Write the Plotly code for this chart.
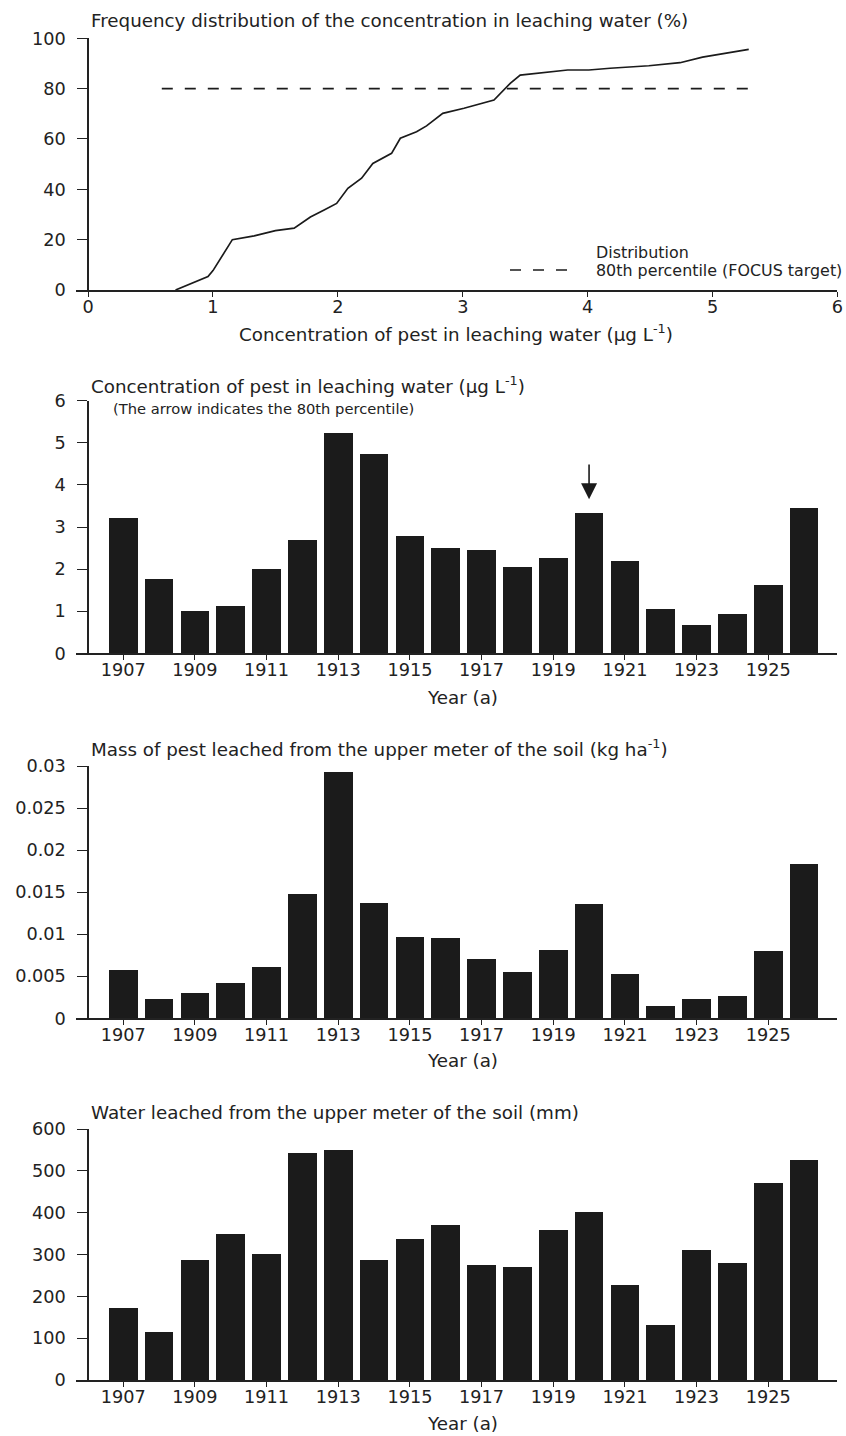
import plotly.graph_objects as go

# ---------------- data ----------------
dist_conc = [0.70, 0.96, 1.00, 1.155, 1.33, 1.50, 1.65, 1.78, 1.89, 1.99, 2.08, 2.15, 2.19,
             2.28, 2.43, 2.50, 2.63, 2.71, 2.84, 3.01, 3.25, 3.38, 3.46, 3.84, 4.01, 4.18,
             4.49, 4.74, 4.92, 5.29]
dist_freq = [0, 5.3, 7.7, 20, 21.5, 23.6, 24.6, 29, 31.8, 34.4, 40.4, 43, 44.4,
             50.3, 54.3, 60.3, 62.9, 65.2, 70.2, 72.2, 75.5, 82.1, 85.4, 87.4, 87.4, 88.1,
             89.1, 90.3, 92.5, 95.6]
target_x = [0.59, 5.31]
target_y = [80, 80]

years = list(range(1907, 1927))
concentration = [3.22, 1.77, 1.02, 1.13, 2.00, 2.70, 5.25, 4.73, 2.80, 2.51, 2.47, 2.05,
                 2.28, 3.34, 2.20, 1.06, 0.68, 0.95, 1.63, 3.46]
mass = [0.0057, 0.0023, 0.0030, 0.0042, 0.0061, 0.0148, 0.0293, 0.0137, 0.0097, 0.0095,
        0.0070, 0.0055, 0.0081, 0.0136, 0.0053, 0.0015, 0.0023, 0.0027, 0.0080, 0.0184]
water = [172, 114, 287, 348, 302, 543, 551, 287, 337, 371, 275, 269, 359, 402, 227, 131,
         310, 279, 472, 527]

p80_year = 1920
arrow_tip = 3.66
arrow_tail = 4.52

year_ticks = list(range(1907, 1926, 2))
conc_ticks = [0, 1, 2, 3, 4, 5, 6]
mass_ticks = [0, 0.005, 0.01, 0.015, 0.02, 0.025, 0.03]
mass_ticktext = ["0", "0.005", "0.01", "0.015", "0.02", "0.025", "0.03"]
water_ticks = [0, 100, 200, 300, 400, 500, 600]
freq_ticks = [0, 20, 40, 60, 80, 100]
dist_xticks = [0, 1, 2, 3, 4, 5, 6]

# ---------------- layout helpers ----------------
W, H = 846, 1436
FONT = "DejaVu Sans, Liberation Sans, Arial, sans-serif"
INK = "#1b1b1b"
TXT = "#222"

def xf(px):
    return px / W

def yf(py):
    return 1 - py / H

XDOM = [xf(76), xf(837.4)]
YAX_POS = xf(88.1)

fig = go.Figure()

# panel 1: distribution
fig.add_trace(go.Scatter(x=dist_conc, y=dist_freq, mode="lines", name="Distribution",
                         line=dict(color=INK, width=1.7), xaxis="x", yaxis="y",
                         showlegend=False))
fig.add_trace(go.Scatter(x=target_x, y=target_y, mode="lines",
                         name="80th percentile (FOCUS target)",
                         line=dict(color=INK, width=1.6, dash="11px,12px"),
                         xaxis="x", yaxis="y", showlegend=False))

# bar panels
for i, vals in zip([2, 3, 4], [concentration, mass, water]):
    fig.add_trace(go.Bar(x=years, y=vals, width=0.8, marker=dict(color=INK, line=dict(width=0)),
                         xaxis=f"x{i}", yaxis=f"y{i}", showlegend=False))

TICK = 17.7
tickfont = dict(family=FONT, size=TICK, color=TXT)
common_x = dict(domain=XDOM, showline=True, linecolor="#222", linewidth=1.5, ticks="outside",
                ticklen=5, tickwidth=1.2, tickcolor="#222", showgrid=False, zeroline=False,
                tickfont=tickfont, ticklabelstandoff=-5, automargin=False)
common_y = dict(showline=True, linecolor="#222", linewidth=1.5, ticks="outside", ticklen=10,
                tickwidth=1.2, tickcolor="#222", showgrid=False, zeroline=False,
                tickfont=tickfont, anchor="free", position=YAX_POS, ticklabelstandoff=8,
                automargin=False)

fig.update_layout(
    width=W, height=H, margin=dict(l=0, r=0, t=0, b=0, autoexpand=False),
    paper_bgcolor="white", plot_bgcolor="white", bargap=0,
    font=dict(family=FONT, color=TXT),
    xaxis=dict(common_x, range=[-0.097, 6.0], tickvals=dist_xticks, anchor="y"),
    yaxis=dict(common_y, domain=[yf(290), yf(38.3)], range=[0, 100], tickvals=freq_ticks),
    xaxis2=dict(common_x, range=[1905.683, 1926.93], tickvals=year_ticks, anchor="y2"),
    yaxis2=dict(common_y, domain=[yf(653.3), yf(400.7)], range=[0, 6], tickvals=conc_ticks),
    xaxis3=dict(common_x, range=[1905.683, 1926.93], tickvals=year_ticks, anchor="y3"),
    yaxis3=dict(common_y, domain=[yf(1018.3), yf(766)], range=[0, 0.03], tickvals=mass_ticks,
                ticktext=mass_ticktext),
    xaxis4=dict(common_x, range=[1905.683, 1926.93], tickvals=year_ticks, anchor="y4"),
    yaxis4=dict(common_y, domain=[yf(1380), yf(1129)], range=[0, 600], tickvals=water_ticks),
)

def note(text, x, y, size, xanchor="left"):
    fig.add_annotation(text=text, x=xf(x), y=yf(y), xref="paper", yref="paper",
                       xanchor=xanchor, yanchor="middle", showarrow=False,
                       font=dict(family=FONT, size=size, color=TXT))

TS = 18.3
note("Frequency distribution of the concentration in leaching water (%)", 89, 20, TS)
note("Concentration of pest in leaching water (µg L<sup>-1</sup>)", 456, 333, TS, "center")
note("Distribution", 594, 252, 15.9)
note("80th percentile (FOCUS target)", 594, 270, 15.9)
fig.add_shape(type="line", xref="paper", yref="paper", x0=xf(510), x1=xf(572),
              y0=yf(270), y1=yf(270), line=dict(color=INK, width=1.6, dash="11px,12px"))

note("Concentration of pest in leaching water (µg L<sup>-1</sup>)", 89, 385, TS)
note("(The arrow indicates the 80th percentile)", 111, 409, 14.7)
note("Year (a)", 463, 697, TS, "center")

note("Mass of pest leached from the upper meter of the soil (kg ha<sup>-1</sup>)", 89, 748, TS)
note("Year (a)", 463, 1060, TS, "center")

note("Water leached from the upper meter of the soil (mm)", 89, 1112, TS)
note("Year (a)", 463, 1423, TS, "center")

# arrow at 80th percentile year
fig.add_annotation(x=p80_year, y=arrow_tip, ax=p80_year, ay=arrow_tail, xref="x2", yref="y2",
                   axref="x2", ayref="y2", showarrow=True, arrowhead=2, arrowsize=2.0,
                   arrowwidth=1.6, arrowcolor=INK, text="")

# remove the default 8px page margin so the figure fills the window exactly
fig.write_html("out.html", config={"displayModeBar": False},
               post_script="document.body.style.margin='0';document.body.style.overflow='hidden';")
